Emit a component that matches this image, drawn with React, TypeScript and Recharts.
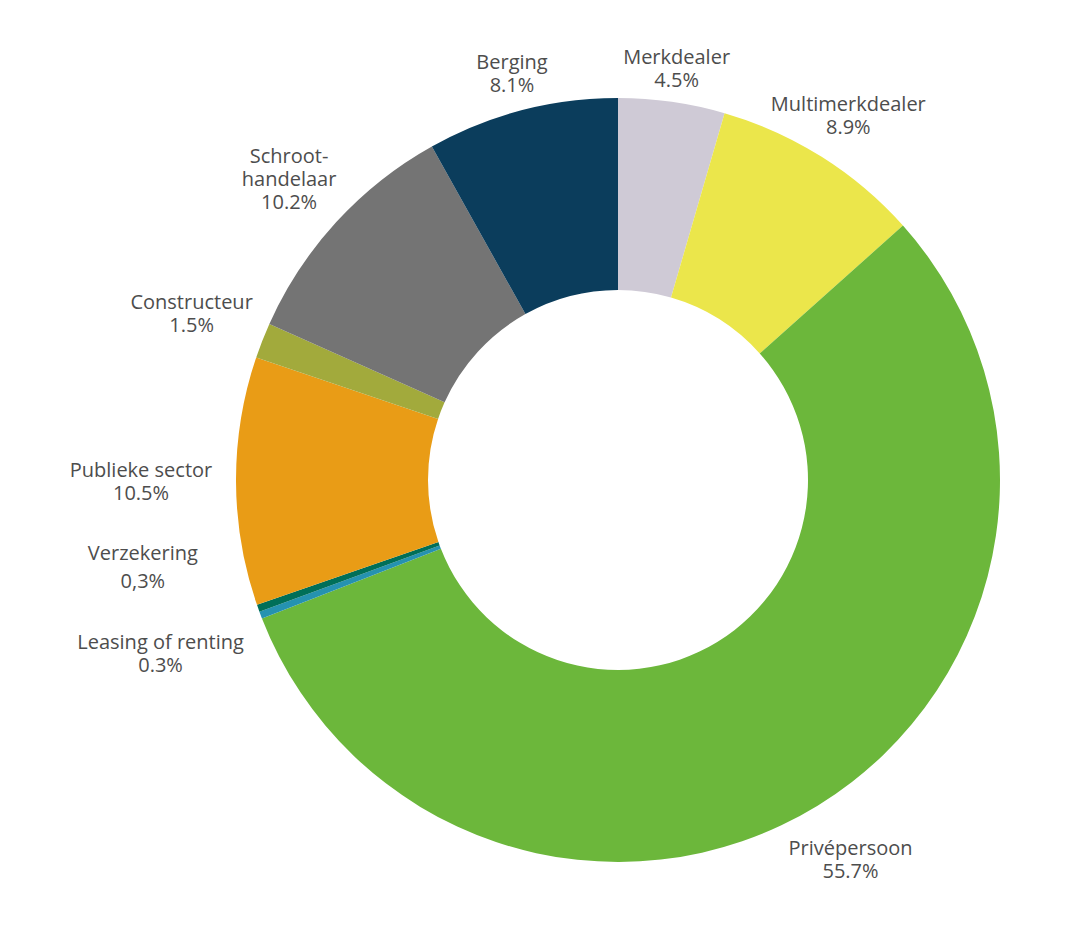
import { PieChart, Pie, Cell } from "recharts";

const categories = [
  "Merkdealer",
  "Multimerkdealer",
  "Privépersoon",
  "Leasing of renting",
  "Verzekering",
  "Publieke sector",
  "Constructeur",
  "Schroot-\nhandelaar",
  "Berging",
];
const shares = [4.5, 8.9, 55.7, 0.3, 0.3, 10.5, 1.5, 10.2, 8.1];
const shareLabels = ["4.5%", "8.9%", "55.7%", "0.3%", "0,3%", "10.5%", "1.5%", "10.2%", "8.1%"];
const colors = [
  "#cfcad6",
  "#ebe64b",
  "#6cb73b",
  "#2592b0",
  "#006f58",
  "#e99c16",
  "#a2aa3c",
  "#747474",
  "#0b3d5c",
];

const chartData = categories.map((name, i) => ({
  name,
  value: shares[i],
  pct: shareLabels[i],
}));

const RAD = Math.PI / 180;
// label placement (layout only): distance from centre per slice, and a nudge for the tiny slice
const labelDist = [416, 432, 445, 489, 483, 477, 458, 446, 421];
const angleNudge: Record<number, number> = { 4: -9.3 };

const renderLabel = (props: any) => {
  const { cx, cy, midAngle, index } = props;
  const ang = midAngle + (angleNudge[index] || 0);
  const r = labelDist[index];
  const x = cx + r * Math.cos(-ang * RAD);
  const y = cy + r * Math.sin(-ang * RAD);
  const lines = [...chartData[index].name.split("\n"), chartData[index].pct];
  const lh = index === 4 ? 28 : 23;
  const start = -((lines.length - 1) / 2) * lh;
  return (
    <text
      x={x}
      y={y}
      textAnchor="middle"
      fill="#4d4d4d"
      fontSize={20}
      fontFamily="'Open Sans', sans-serif"
    >
      {lines.map((l, i) => (
        <tspan key={i} x={x} y={y + start + i * lh} dominantBaseline="central">
          {l}
        </tspan>
      ))}
    </text>
  );
};

export default function App() {
  return (
    <div style={{ position: "absolute", left: 0, top: 0, background: "#fff" }}>
      <PieChart width={1073} height={940} margin={{ top: 0, right: 0, bottom: 0, left: 0 }}>
        <Pie
          data={chartData}
          dataKey="value"
          cx={618}
          cy={480}
          innerRadius={190}
          outerRadius={382}
          startAngle={90}
          endAngle={-270}
          stroke="none"
          label={renderLabel}
          labelLine={false}
          isAnimationActive={false}
        >
          {chartData.map((entry, index) => (
            <Cell key={`cell-${index}`} fill={colors[index]} />
          ))}
        </Pie>
      </PieChart>
    </div>
  );
}
